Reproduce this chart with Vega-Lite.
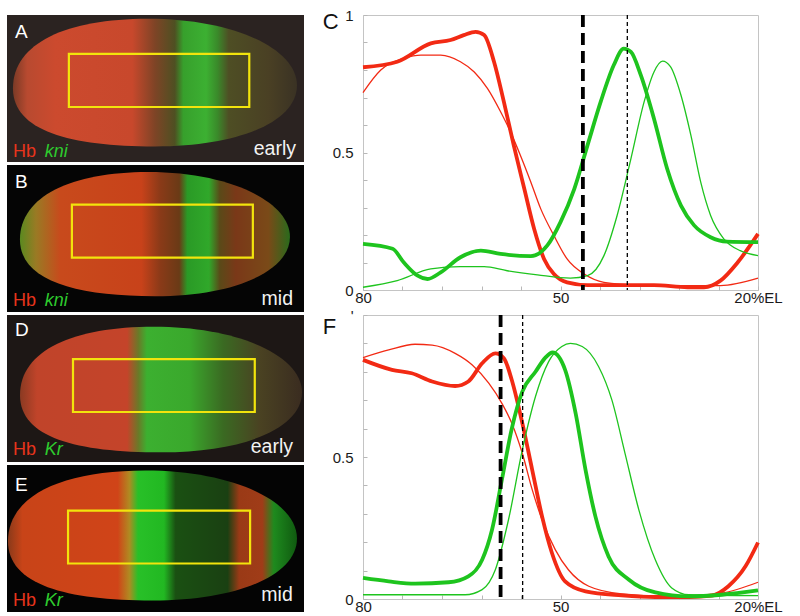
{
  "$schema": "https://vega.github.io/schema/vega-lite/v6.json",
  "background": "white",
  "padding": {"left": 7, "top": 7, "right": 0, "bottom": 0},
  "config": {
    "font": "Liberation Sans",
    "view": {"stroke": null},
    "text": {"font": "Liberation Sans"}
  },
  "datasets": {
    "curvesC": [
      {"g": "Hb", "s": "mid", "el": 80, "v": 0.81}, {"g": "Hb", "s": "mid", "el": 74.8, "v": 0.83}, {"g": "Hb", "s": "mid", "el": 69.7, "v": 0.897}, {"g": "Hb", "s": "mid", "el": 66.7, "v": 0.909}, {"g": "Hb", "s": "mid", "el": 64.7, "v": 0.927}, {"g": "Hb", "s": "mid", "el": 62.9, "v": 0.939}, {"g": "Hb", "s": "mid", "el": 61.6, "v": 0.927}, {"g": "Hb", "s": "mid", "el": 60.1, "v": 0.83}, {"g": "Hb", "s": "mid", "el": 58.6, "v": 0.684}, {"g": "Hb", "s": "mid", "el": 57.1, "v": 0.526}, {"g": "Hb", "s": "mid", "el": 55.5, "v": 0.368}, {"g": "Hb", "s": "mid", "el": 54.0, "v": 0.222}, {"g": "Hb", "s": "mid", "el": 52.5, "v": 0.113}, {"g": "Hb", "s": "mid", "el": 51.0, "v": 0.058}, {"g": "Hb", "s": "mid", "el": 49.0, "v": 0.028}, {"g": "Hb", "s": "mid", "el": 45.9, "v": 0.018}, {"g": "Hb", "s": "mid", "el": 40.9, "v": 0.018}, {"g": "Hb", "s": "mid", "el": 35.8, "v": 0.018}, {"g": "Hb", "s": "mid", "el": 30.7, "v": 0.01}, {"g": "Hb", "s": "mid", "el": 28.2, "v": 0.01}, {"g": "Hb", "s": "mid", "el": 25.7, "v": 0.034}, {"g": "Hb", "s": "mid", "el": 23.1, "v": 0.1}, {"g": "Hb", "s": "mid", "el": 20, "v": 0.204},
      {"g": "Hb", "s": "early", "el": 80, "v": 0.718}, {"g": "Hb", "s": "early", "el": 77.3, "v": 0.8}, {"g": "Hb", "s": "early", "el": 73.8, "v": 0.842}, {"g": "Hb", "s": "early", "el": 71.2, "v": 0.854}, {"g": "Hb", "s": "early", "el": 68.2, "v": 0.854}, {"g": "Hb", "s": "early", "el": 65.2, "v": 0.83}, {"g": "Hb", "s": "early", "el": 63.1, "v": 0.793}, {"g": "Hb", "s": "early", "el": 61.1, "v": 0.733}, {"g": "Hb", "s": "early", "el": 59.1, "v": 0.648}, {"g": "Hb", "s": "early", "el": 57.6, "v": 0.575}, {"g": "Hb", "s": "early", "el": 56.1, "v": 0.49}, {"g": "Hb", "s": "early", "el": 54.5, "v": 0.392}, {"g": "Hb", "s": "early", "el": 53.0, "v": 0.295}, {"g": "Hb", "s": "early", "el": 51.0, "v": 0.198}, {"g": "Hb", "s": "early", "el": 49.0, "v": 0.113}, {"g": "Hb", "s": "early", "el": 46.4, "v": 0.058}, {"g": "Hb", "s": "early", "el": 43.4, "v": 0.028}, {"g": "Hb", "s": "early", "el": 38.3, "v": 0.018}, {"g": "Hb", "s": "early", "el": 30.7, "v": 0.016}, {"g": "Hb", "s": "early", "el": 25.7, "v": 0.016}, {"g": "Hb", "s": "early", "el": 20, "v": 0.043},
      {"g": "kni", "s": "mid", "el": 80, "v": 0.168}, {"g": "kni", "s": "mid", "el": 75.5, "v": 0.15}, {"g": "kni", "s": "mid", "el": 73.8, "v": 0.1}, {"g": "kni", "s": "mid", "el": 71.7, "v": 0.052}, {"g": "kni", "s": "mid", "el": 70.2, "v": 0.04}, {"g": "kni", "s": "mid", "el": 68.2, "v": 0.064}, {"g": "kni", "s": "mid", "el": 65.2, "v": 0.119}, {"g": "kni", "s": "mid", "el": 62.1, "v": 0.143}, {"g": "kni", "s": "mid", "el": 59.1, "v": 0.131}, {"g": "kni", "s": "mid", "el": 54.5, "v": 0.123}, {"g": "kni", "s": "mid", "el": 52.0, "v": 0.162}, {"g": "kni", "s": "mid", "el": 50.0, "v": 0.247}, {"g": "kni", "s": "mid", "el": 47.9, "v": 0.368}, {"g": "kni", "s": "mid", "el": 45.9, "v": 0.526}, {"g": "kni", "s": "mid", "el": 43.9, "v": 0.684}, {"g": "kni", "s": "mid", "el": 41.9, "v": 0.818}, {"g": "kni", "s": "mid", "el": 40.4, "v": 0.878}, {"g": "kni", "s": "mid", "el": 39.3, "v": 0.866}, {"g": "kni", "s": "mid", "el": 37.8, "v": 0.781}, {"g": "kni", "s": "mid", "el": 35.8, "v": 0.623}, {"g": "kni", "s": "mid", "el": 33.8, "v": 0.441}, {"g": "kni", "s": "mid", "el": 31.7, "v": 0.307}, {"g": "kni", "s": "mid", "el": 29.7, "v": 0.235}, {"g": "kni", "s": "mid", "el": 27.2, "v": 0.192}, {"g": "kni", "s": "mid", "el": 24.7, "v": 0.176}, {"g": "kni", "s": "mid", "el": 20, "v": 0.174},
      {"g": "kni", "s": "early", "el": 80, "v": 0.01}, {"g": "kni", "s": "early", "el": 74.8, "v": 0.034}, {"g": "kni", "s": "early", "el": 69.7, "v": 0.077}, {"g": "kni", "s": "early", "el": 65.2, "v": 0.085}, {"g": "kni", "s": "early", "el": 61.6, "v": 0.085}, {"g": "kni", "s": "early", "el": 58.1, "v": 0.07}, {"g": "kni", "s": "early", "el": 53.5, "v": 0.055}, {"g": "kni", "s": "early", "el": 48.5, "v": 0.043}, {"g": "kni", "s": "early", "el": 45.9, "v": 0.052}, {"g": "kni", "s": "early", "el": 43.4, "v": 0.125}, {"g": "kni", "s": "early", "el": 41.4, "v": 0.271}, {"g": "kni", "s": "early", "el": 39.3, "v": 0.478}, {"g": "kni", "s": "early", "el": 37.3, "v": 0.684}, {"g": "kni", "s": "early", "el": 35.8, "v": 0.793}, {"g": "kni", "s": "early", "el": 34.5, "v": 0.832}, {"g": "kni", "s": "early", "el": 33.3, "v": 0.812}, {"g": "kni", "s": "early", "el": 31.7, "v": 0.708}, {"g": "kni", "s": "early", "el": 30.2, "v": 0.563}, {"g": "kni", "s": "early", "el": 28.7, "v": 0.392}, {"g": "kni", "s": "early", "el": 27.2, "v": 0.271}, {"g": "kni", "s": "early", "el": 25.2, "v": 0.186}, {"g": "kni", "s": "early", "el": 22.7, "v": 0.143}, {"g": "kni", "s": "early", "el": 20, "v": 0.125}
    ],
    "curvesF": [
      {"g": "Hb", "s": "mid", "el": 80, "v": 0.842}, {"g": "Hb", "s": "mid", "el": 75.6, "v": 0.807}, {"g": "Hb", "s": "mid", "el": 72.6, "v": 0.795}, {"g": "Hb", "s": "mid", "el": 69.5, "v": 0.766}, {"g": "Hb", "s": "mid", "el": 66.0, "v": 0.75}, {"g": "Hb", "s": "mid", "el": 64.0, "v": 0.766}, {"g": "Hb", "s": "mid", "el": 61.9, "v": 0.83}, {"g": "Hb", "s": "mid", "el": 59.9, "v": 0.865}, {"g": "Hb", "s": "mid", "el": 58.6, "v": 0.848}, {"g": "Hb", "s": "mid", "el": 57.4, "v": 0.771}, {"g": "Hb", "s": "mid", "el": 55.8, "v": 0.619}, {"g": "Hb", "s": "mid", "el": 54.3, "v": 0.455}, {"g": "Hb", "s": "mid", "el": 52.8, "v": 0.291}, {"g": "Hb", "s": "mid", "el": 51.3, "v": 0.162}, {"g": "Hb", "s": "mid", "el": 49.3, "v": 0.062}, {"g": "Hb", "s": "mid", "el": 46.2, "v": 0.027}, {"g": "Hb", "s": "mid", "el": 40.7, "v": 0.013}, {"g": "Hb", "s": "mid", "el": 35.6, "v": 0.007}, {"g": "Hb", "s": "mid", "el": 30.5, "v": 0.007}, {"g": "Hb", "s": "mid", "el": 27.0, "v": 0.012}, {"g": "Hb", "s": "mid", "el": 24.5, "v": 0.045}, {"g": "Hb", "s": "mid", "el": 21.9, "v": 0.115}, {"g": "Hb", "s": "mid", "el": 20, "v": 0.199},
      {"g": "Hb", "s": "early", "el": 80, "v": 0.85}, {"g": "Hb", "s": "early", "el": 76.1, "v": 0.877}, {"g": "Hb", "s": "early", "el": 72.1, "v": 0.897}, {"g": "Hb", "s": "early", "el": 69.5, "v": 0.894}, {"g": "Hb", "s": "early", "el": 66.0, "v": 0.865}, {"g": "Hb", "s": "early", "el": 63.4, "v": 0.824}, {"g": "Hb", "s": "early", "el": 60.9, "v": 0.76}, {"g": "Hb", "s": "early", "el": 58.9, "v": 0.689}, {"g": "Hb", "s": "early", "el": 57.4, "v": 0.619}, {"g": "Hb", "s": "early", "el": 55.8, "v": 0.513}, {"g": "Hb", "s": "early", "el": 54.3, "v": 0.385}, {"g": "Hb", "s": "early", "el": 52.8, "v": 0.279}, {"g": "Hb", "s": "early", "el": 50.8, "v": 0.174}, {"g": "Hb", "s": "early", "el": 48.8, "v": 0.103}, {"g": "Hb", "s": "early", "el": 45.7, "v": 0.045}, {"g": "Hb", "s": "early", "el": 40.7, "v": 0.018}, {"g": "Hb", "s": "early", "el": 33.1, "v": 0.009}, {"g": "Hb", "s": "early", "el": 25.5, "v": 0.021}, {"g": "Hb", "s": "early", "el": 20, "v": 0.059},
      {"g": "Kr", "s": "mid", "el": 80, "v": 0.074}, {"g": "Kr", "s": "mid", "el": 76.1, "v": 0.062}, {"g": "Kr", "s": "mid", "el": 72.1, "v": 0.054}, {"g": "Kr", "s": "mid", "el": 67.0, "v": 0.059}, {"g": "Kr", "s": "mid", "el": 64.0, "v": 0.08}, {"g": "Kr", "s": "mid", "el": 61.9, "v": 0.138}, {"g": "Kr", "s": "mid", "el": 60.4, "v": 0.244}, {"g": "Kr", "s": "mid", "el": 58.9, "v": 0.42}, {"g": "Kr", "s": "mid", "el": 57.4, "v": 0.6}, {"g": "Kr", "s": "mid", "el": 55.8, "v": 0.73}, {"g": "Kr", "s": "mid", "el": 53.8, "v": 0.8}, {"g": "Kr", "s": "mid", "el": 52.3, "v": 0.85}, {"g": "Kr", "s": "mid", "el": 51.2, "v": 0.868}, {"g": "Kr", "s": "mid", "el": 49.3, "v": 0.807}, {"g": "Kr", "s": "mid", "el": 47.7, "v": 0.654}, {"g": "Kr", "s": "mid", "el": 46.2, "v": 0.455}, {"g": "Kr", "s": "mid", "el": 44.7, "v": 0.291}, {"g": "Kr", "s": "mid", "el": 42.7, "v": 0.15}, {"g": "Kr", "s": "mid", "el": 39.6, "v": 0.068}, {"g": "Kr", "s": "mid", "el": 35.6, "v": 0.023}, {"g": "Kr", "s": "mid", "el": 30.5, "v": 0.009}, {"g": "Kr", "s": "mid", "el": 25.5, "v": 0.015}, {"g": "Kr", "s": "mid", "el": 20, "v": 0.03},
      {"g": "Kr", "s": "early", "el": 80, "v": 0.015}, {"g": "Kr", "s": "early", "el": 71.0, "v": 0.015}, {"g": "Kr", "s": "early", "el": 64.5, "v": 0.015}, {"g": "Kr", "s": "early", "el": 61.9, "v": 0.033}, {"g": "Kr", "s": "early", "el": 59.9, "v": 0.103}, {"g": "Kr", "s": "early", "el": 57.9, "v": 0.279}, {"g": "Kr", "s": "early", "el": 55.8, "v": 0.525}, {"g": "Kr", "s": "early", "el": 53.8, "v": 0.713}, {"g": "Kr", "s": "early", "el": 51.8, "v": 0.836}, {"g": "Kr", "s": "early", "el": 49.8, "v": 0.889}, {"g": "Kr", "s": "early", "el": 48.5, "v": 0.9}, {"g": "Kr", "s": "early", "el": 46.7, "v": 0.889}, {"g": "Kr", "s": "early", "el": 44.2, "v": 0.818}, {"g": "Kr", "s": "early", "el": 42.2, "v": 0.701}, {"g": "Kr", "s": "early", "el": 40.2, "v": 0.513}, {"g": "Kr", "s": "early", "el": 38.1, "v": 0.314}, {"g": "Kr", "s": "early", "el": 35.6, "v": 0.138}, {"g": "Kr", "s": "early", "el": 33.1, "v": 0.039}, {"g": "Kr", "s": "early", "el": 30.5, "v": 0.015}, {"g": "Kr", "s": "early", "el": 20, "v": 0.012}
    ]
  },
  "hconcat": [
    {
      "spacing": 3,
      "vconcat": [
        {
          "width": 297, "height": 147,
          "view": {"fill": "#2b2321", "stroke": null},
          "encoding": {
            "x": {"field": "el", "type": "quantitative", "scale": {"domain": [104, -4], "nice": false, "zero": false}, "axis": null},
            "y": {"field": "dv", "type": "quantitative", "scale": {"domain": [100, 0], "nice": false, "zero": false}, "axis": null}
          },
          "layer": [
            {
              "data": {"values": [{"el": 50.2, "dv": 46}]},
              "mark": {"type": "point", "filled": true, "opacity": 1, "strokeWidth": 0, "size": 80656,
                "shape": "M-1,0.04 C-1,-0.28 -0.62,-0.45 -0.05,-0.45 C0.55,-0.45 1,-0.24 1,0.02 C1,0.27 0.6,0.45 0,0.45 C-0.6,0.45 -1,0.34 -1,0.04 Z",
                "fill": {"gradient": "linear", "x1": 0, "y1": 0, "x2": 1, "y2": 0, "stops": [
                  {"offset": 0, "color": "#7a3a26"}, {"offset": 0.05, "color": "#b84a30"}, {"offset": 0.15, "color": "#cc4a2e"},
                  {"offset": 0.42, "color": "#c8482c"}, {"offset": 0.5, "color": "#7e4426"}, {"offset": 0.57, "color": "#4e5022"},
                  {"offset": 0.6, "color": "#37a02c"}, {"offset": 0.68, "color": "#3cb032"}, {"offset": 0.72, "color": "#3a8a2a"},
                  {"offset": 0.76, "color": "#4e4e24"}, {"offset": 0.9, "color": "#4a4024"}, {"offset": 1, "color": "#3a3224"}]}}
            },
            {
              "data": {"values": [{"el": 81.5, "el2": 15.9, "dv": 26.5, "dv2": 62.6}]},
              "mark": {"type": "rect", "fillOpacity": 0, "stroke": "#f2e40c", "strokeWidth": 2.2},
              "encoding": {"x2": {"field": "el2"}, "y2": {"field": "dv2"}}
            },
            {
              "data": {"values": [{"t": "A", "el": 101.1, "dv": 15.6}]},
              "mark": {"type": "text", "align": "left", "baseline": "alphabetic", "fontSize": 19, "color": "#ffffff"},
              "encoding": {"text": {"field": "t"}}
            },
            {
              "data": {"values": [{"t": "Hb", "el": 101.8, "dv": 96.6}]},
              "mark": {"type": "text", "align": "left", "baseline": "alphabetic", "fontSize": 18, "color": "#e8341c"},
              "encoding": {"text": {"field": "t"}}
            },
            {
              "data": {"values": [{"t": "kni", "el": 90.3, "dv": 96.6}]},
              "mark": {"type": "text", "align": "left", "baseline": "alphabetic", "fontSize": 18, "fontStyle": "italic", "color": "#2ecc2e"},
              "encoding": {"text": {"field": "t"}}
            },
            {
              "data": {"values": [{"t": "early", "el": -1.1, "dv": 95}]},
              "mark": {"type": "text", "align": "right", "baseline": "alphabetic", "fontSize": 19.5, "color": "#f2f2f2"},
              "encoding": {"text": {"field": "t"}}
            }
          ]
        },
        {
          "width": 297, "height": 147,
          "view": {"fill": "#050505", "stroke": null},
          "encoding": {
            "x": {"field": "el", "type": "quantitative", "scale": {"domain": [104, -4], "nice": false, "zero": false}, "axis": null},
            "y": {"field": "dv", "type": "quantitative", "scale": {"domain": [100, 0], "nice": false, "zero": false}, "axis": null}
          },
          "layer": [
            {
              "data": {"values": [{"el": 50.2, "dv": 47}]},
              "mark": {"type": "point", "filled": true, "opacity": 1, "strokeWidth": 0, "size": 72900,
                "shape": "M-1,0.04 C-1,-0.28 -0.62,-0.46 -0.05,-0.46 C0.55,-0.46 1,-0.24 1,0.02 C1,0.27 0.6,0.46 0,0.46 C-0.6,0.46 -1,0.34 -1,0.04 Z",
                "fill": {"gradient": "linear", "x1": 0, "y1": 0, "x2": 1, "y2": 0, "stops": [
                  {"offset": 0, "color": "#5a8a20"}, {"offset": 0.06, "color": "#9a7a24"}, {"offset": 0.15, "color": "#c84a1c"},
                  {"offset": 0.45, "color": "#c8421a"}, {"offset": 0.52, "color": "#8a3a18"}, {"offset": 0.59, "color": "#6a3a16"},
                  {"offset": 0.62, "color": "#2a9a26"}, {"offset": 0.7, "color": "#30a82a"}, {"offset": 0.74, "color": "#5a4a18"},
                  {"offset": 0.8, "color": "#7a3818"}, {"offset": 0.92, "color": "#7a4a18"}, {"offset": 1, "color": "#2a6a1c"}]}}
            },
            {
              "data": {"values": [{"el": 80.4, "el2": 14.6, "dv": 27, "dv2": 63}]},
              "mark": {"type": "rect", "fillOpacity": 0, "stroke": "#f2e40c", "strokeWidth": 2.2},
              "encoding": {"x2": {"field": "el2"}, "y2": {"field": "dv2"}}
            },
            {
              "data": {"values": [{"t": "B", "el": 101.1, "dv": 15.6}]},
              "mark": {"type": "text", "align": "left", "baseline": "alphabetic", "fontSize": 19, "color": "#ffffff"},
              "encoding": {"text": {"field": "t"}}
            },
            {
              "data": {"values": [{"t": "Hb", "el": 101.8, "dv": 96.1}]},
              "mark": {"type": "text", "align": "left", "baseline": "alphabetic", "fontSize": 18, "color": "#e8341c"},
              "encoding": {"text": {"field": "t"}}
            },
            {
              "data": {"values": [{"t": "kni", "el": 90.3, "dv": 96.1}]},
              "mark": {"type": "text", "align": "left", "baseline": "alphabetic", "fontSize": 18, "fontStyle": "italic", "color": "#2ecc2e"},
              "encoding": {"text": {"field": "t"}}
            },
            {
              "data": {"values": [{"t": "mid", "el": 0, "dv": 95}]},
              "mark": {"type": "text", "align": "right", "baseline": "alphabetic", "fontSize": 19.5, "color": "#f2f2f2"},
              "encoding": {"text": {"field": "t"}}
            }
          ]
        },
        {
          "width": 297, "height": 147,
          "view": {"fill": "#1d1715", "stroke": null},
          "encoding": {
            "x": {"field": "el", "type": "quantitative", "scale": {"domain": [104, -4], "nice": false, "zero": false}, "axis": null},
            "y": {"field": "dv", "type": "quantitative", "scale": {"domain": [100, 0], "nice": false, "zero": false}, "axis": null}
          },
          "layer": [
            {
              "data": {"values": [{"el": 48.0, "dv": 50.7}]},
              "mark": {"type": "point", "filled": true, "opacity": 1, "strokeWidth": 0, "size": 79524,
                "shape": "M-1,0.04 C-1,-0.28 -0.62,-0.445 -0.05,-0.445 C0.55,-0.445 1,-0.24 1,0.02 C1,0.27 0.6,0.445 0,0.445 C-0.6,0.445 -1,0.34 -1,0.04 Z",
                "fill": {"gradient": "linear", "x1": 0, "y1": 0, "x2": 1, "y2": 0, "stops": [
                  {"offset": 0, "color": "#8a3a22"}, {"offset": 0.06, "color": "#c0442a"}, {"offset": 0.38, "color": "#c4442a"},
                  {"offset": 0.42, "color": "#6a7a28"}, {"offset": 0.45, "color": "#3cb030"}, {"offset": 0.6, "color": "#3aa82c"},
                  {"offset": 0.72, "color": "#3a6a22"}, {"offset": 0.85, "color": "#4a4222"}, {"offset": 1, "color": "#3a2c20"}]}}
            },
            {
              "data": {"values": [{"el": 80.0, "el2": 13.9, "dv": 30, "dv2": 66}]},
              "mark": {"type": "rect", "fillOpacity": 0, "stroke": "#f2e40c", "strokeWidth": 2.2},
              "encoding": {"x2": {"field": "el2"}, "y2": {"field": "dv2"}}
            },
            {
              "data": {"values": [{"t": "D", "el": 101.1, "dv": 14.5}]},
              "mark": {"type": "text", "align": "left", "baseline": "alphabetic", "fontSize": 19, "color": "#ffffff"},
              "encoding": {"text": {"field": "t"}}
            },
            {
              "data": {"values": [{"t": "Hb", "el": 101.8, "dv": 95}]},
              "mark": {"type": "text", "align": "left", "baseline": "alphabetic", "fontSize": 18, "color": "#e8341c"},
              "encoding": {"text": {"field": "t"}}
            },
            {
              "data": {"values": [{"t": "Kr", "el": 90.3, "dv": 95}]},
              "mark": {"type": "text", "align": "left", "baseline": "alphabetic", "fontSize": 18, "fontStyle": "italic", "color": "#2ecc2e"},
              "encoding": {"text": {"field": "t"}}
            },
            {
              "data": {"values": [{"t": "early", "el": 0, "dv": 94}]},
              "mark": {"type": "text", "align": "right", "baseline": "alphabetic", "fontSize": 19.5, "color": "#f2f2f2"},
              "encoding": {"text": {"field": "t"}}
            }
          ]
        },
        {
          "width": 297, "height": 147,
          "view": {"fill": "#040404", "stroke": null},
          "encoding": {
            "x": {"field": "el", "type": "quantitative", "scale": {"domain": [104, -4], "nice": false, "zero": false}, "axis": null},
            "y": {"field": "dv", "type": "quantitative", "scale": {"domain": [100, 0], "nice": false, "zero": false}, "axis": null}
          },
          "layer": [
            {
              "data": {"values": [{"el": 51.1, "dv": 48}]},
              "mark": {"type": "point", "filled": true, "opacity": 1, "strokeWidth": 0, "size": 83521,
                "shape": "M-1,0.04 C-1,-0.28 -0.62,-0.45 -0.05,-0.45 C0.55,-0.45 1,-0.24 1,0.02 C1,0.27 0.6,0.45 0,0.45 C-0.6,0.45 -1,0.34 -1,0.04 Z",
                "fill": {"gradient": "linear", "x1": 0, "y1": 0, "x2": 1, "y2": 0, "stops": [
                  {"offset": 0, "color": "#8a3a1a"}, {"offset": 0.05, "color": "#c84418"}, {"offset": 0.38, "color": "#d04418"},
                  {"offset": 0.42, "color": "#b08a22"}, {"offset": 0.45, "color": "#28c028"}, {"offset": 0.54, "color": "#22b822"},
                  {"offset": 0.58, "color": "#1a5012"}, {"offset": 0.76, "color": "#1a4012"}, {"offset": 0.8, "color": "#9a3a16"},
                  {"offset": 0.88, "color": "#a03c18"}, {"offset": 0.92, "color": "#1e8a1e"}, {"offset": 1, "color": "#105a10"}]}}
            },
            {
              "data": {"values": [{"el": 81.8, "el2": 15.6, "dv": 31, "dv2": 67}]},
              "mark": {"type": "rect", "fillOpacity": 0, "stroke": "#f2e40c", "strokeWidth": 2.2},
              "encoding": {"x2": {"field": "el2"}, "y2": {"field": "dv2"}}
            },
            {
              "data": {"values": [{"t": "E", "el": 101.1, "dv": 18}]},
              "mark": {"type": "text", "align": "left", "baseline": "alphabetic", "fontSize": 19, "color": "#ffffff"},
              "encoding": {"text": {"field": "t"}}
            },
            {
              "data": {"values": [{"t": "Hb", "el": 101.8, "dv": 95.7}]},
              "mark": {"type": "text", "align": "left", "baseline": "alphabetic", "fontSize": 18, "color": "#e8341c"},
              "encoding": {"text": {"field": "t"}}
            },
            {
              "data": {"values": [{"t": "Kr", "el": 90.3, "dv": 95.7}]},
              "mark": {"type": "text", "align": "left", "baseline": "alphabetic", "fontSize": 18, "fontStyle": "italic", "color": "#2ecc2e"},
              "encoding": {"text": {"field": "t"}}
            },
            {
              "data": {"values": [{"t": "mid", "el": 0.1, "dv": 92.3}]},
              "mark": {"type": "text", "align": "right", "baseline": "alphabetic", "fontSize": 19.5, "color": "#f2f2f2"},
              "encoding": {"text": {"field": "t"}}
            }
          ]
        }
      ]
    },
    {
      "spacing": 1,
      "vconcat": [
        {
          "width": 395, "height": 275,
          "view": {"stroke": "#c4c4c4", "strokeWidth": 1},
          "encoding": {
            "x": {"field": "el", "type": "quantitative", "scale": {"domain": [80, 20], "nice": false, "zero": false},
              "axis": {"title": null, "values": [80, 74, 68, 62, 56, 50, 44, 38, 32, 26, 20], "labelExpr": "datum.value==80?'80':datum.value==50?'50':datum.value==20?'\u2007\u200720%EL':''",
                "domain": false, "grid": false, "ticks": true, "tickSize": -4, "tickColor": "#b8b8b8", "labelFontSize": 15, "labelColor": "#1a1a1a",
                "labelPadding": 4, "labelFlush": false, "labelOverlap": false, "labelAlign": "center"}}
          },
          "layer": [
            {
              "data": {"name": "curvesC"},
              "mark": {"type": "line", "interpolate": "monotone"},
              "encoding": {
                "y": {"field": "v", "type": "quantitative", "scale": {"domain": [0, 1], "nice": false},
                  "axis": {"title": null, "values": [0, 0.1, 0.2, 0.3, 0.4, 0.5, 0.6, 0.7, 0.8, 0.9, 1], "labelExpr": "datum.value==0?'0':datum.value==0.5?'0.5':datum.value==1?'1':''",
                    "domain": false, "grid": false, "ticks": true, "tickSize": -4, "tickColor": "#b8b8b8", "labelFontSize": 15, "labelColor": "#1a1a1a", "labelPadding": 14, "labelFlush": false, "labelOverlap": false}},
                "color": {"field": "g", "type": "nominal", "scale": {"domain": ["Hb", "kni", "Kr"], "range": ["#f22a14", "#1ec41e", "#1ec41e"]}, "legend": null},
                "strokeWidth": {"field": "s", "type": "nominal", "scale": {"domain": ["early", "mid"], "range": [1.3, 3.8]}, "legend": null},
                "detail": {"field": "s"}
              }
            },
            {
              "data": {"values": [{"s": "mid", "el": 46.6}, {"s": "early", "el": 39.85}]},
              "mark": {"type": "rule", "color": "#000000"},
              "encoding": {
                "strokeWidth": {"field": "s", "type": "nominal", "scale": {"domain": ["early", "mid"], "range": [1.3, 3.8]}, "legend": null},
                "strokeDash": {"field": "s", "type": "nominal", "scale": {"domain": ["early", "mid"], "range": [[4, 3], [12, 6]]}, "legend": null}
              }
            },
            {
              "data": {"values": [{"t": "C", "el": 84.9, "v": 0.976}]},
              "mark": {"type": "text", "fontSize": 22, "color": "#111111", "align": "center", "baseline": "middle"},
              "encoding": {
                "y": {"field": "v", "type": "quantitative", "scale": {"domain": [0, 1], "nice": false},
                  "axis": {"title": null, "values": [0, 0.1, 0.2, 0.3, 0.4, 0.5, 0.6, 0.7, 0.8, 0.9, 1], "labelExpr": "datum.value==0?'0':datum.value==0.5?'0.5':datum.value==1?'1':''",
                    "domain": false, "grid": false, "ticks": true, "tickSize": -4, "tickColor": "#b8b8b8", "labelFontSize": 15, "labelColor": "#1a1a1a", "labelPadding": 14, "labelFlush": false, "labelOverlap": false}},
                "text": {"field": "t"}
              }
            }
          ]
        },
        {
          "width": 395, "height": 284,
          "view": {"stroke": "#c4c4c4", "strokeWidth": 1},
          "encoding": {
            "x": {"field": "el", "type": "quantitative", "scale": {"domain": [80, 20], "nice": false, "zero": false},
              "axis": {"title": null, "values": [80, 74, 68, 62, 56, 50, 44, 38, 32, 26, 20], "labelExpr": "datum.value==80?'80':datum.value==50?'50':datum.value==20?'\u2007\u200720%EL':''",
                "domain": false, "grid": false, "ticks": true, "tickSize": -4, "tickColor": "#b8b8b8", "labelFontSize": 15, "labelColor": "#1a1a1a",
                "labelPadding": 4, "labelFlush": false, "labelOverlap": false, "labelAlign": "center"}}
          },
          "layer": [
            {
              "data": {"name": "curvesF"},
              "mark": {"type": "line", "interpolate": "monotone"},
              "encoding": {
                "y": {"field": "v", "type": "quantitative", "scale": {"domain": [0, 1], "nice": false},
                  "axis": {"title": null, "values": [0, 0.1, 0.2, 0.3, 0.4, 0.5, 0.6, 0.7, 0.8, 0.9, 1], "labelExpr": "datum.value==0?'0':datum.value==0.5?'0.5':datum.value==1?\"'\":''",
                    "domain": false, "grid": false, "ticks": true, "tickSize": -4, "tickColor": "#b8b8b8", "labelFontSize": 15, "labelColor": "#1a1a1a", "labelPadding": 14, "labelFlush": false, "labelOverlap": false}},
                "color": {"field": "g", "type": "nominal", "scale": {"domain": ["Hb", "kni", "Kr"], "range": ["#f22a14", "#1ec41e", "#1ec41e"]}, "legend": null},
                "strokeWidth": {"field": "s", "type": "nominal", "scale": {"domain": ["early", "mid"], "range": [1.3, 3.8]}, "legend": null},
                "detail": {"field": "s"}
              }
            },
            {
              "data": {"values": [{"s": "mid", "el": 59.1}, {"s": "early", "el": 55.75}]},
              "mark": {"type": "rule", "color": "#000000"},
              "encoding": {
                "strokeWidth": {"field": "s", "type": "nominal", "scale": {"domain": ["early", "mid"], "range": [1.3, 3.8]}, "legend": null},
                "strokeDash": {"field": "s", "type": "nominal", "scale": {"domain": ["early", "mid"], "range": [[4, 3], [12, 6]]}, "legend": null}
              }
            },
            {
              "data": {"values": [{"t": "F", "el": 85.1, "v": 0.959}]},
              "mark": {"type": "text", "fontSize": 22, "color": "#111111", "align": "center", "baseline": "middle"},
              "encoding": {
                "y": {"field": "v", "type": "quantitative", "scale": {"domain": [0, 1], "nice": false},
                  "axis": {"title": null, "values": [0, 0.1, 0.2, 0.3, 0.4, 0.5, 0.6, 0.7, 0.8, 0.9, 1], "labelExpr": "datum.value==0?'0':datum.value==0.5?'0.5':datum.value==1?\"'\":''",
                    "domain": false, "grid": false, "ticks": true, "tickSize": -4, "tickColor": "#b8b8b8", "labelFontSize": 15, "labelColor": "#1a1a1a", "labelPadding": 14, "labelFlush": false, "labelOverlap": false}},
                "text": {"field": "t"}
              }
            }
          ]
        }
      ]
    }
  ],
  "spacing": 18
}
